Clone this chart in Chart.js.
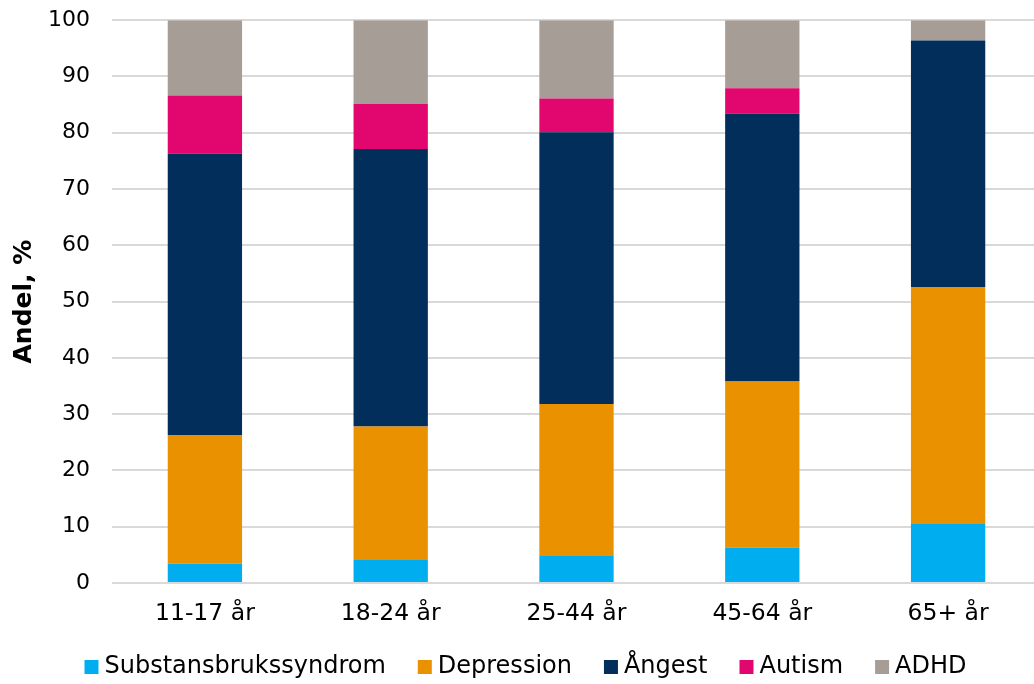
<!DOCTYPE html>
<html>
<head>
<meta charset="utf-8">
<script src="https://cdn.jsdelivr.net/npm/chart.js@4/dist/chart.umd.min.js"></script>
<style>
  html, body { margin: 0; padding: 0; background: #fff; overflow: hidden; }
  #wrap { position: absolute; left: 0; top: -15px; width: 1041px; height: 715px; }
</style>
</head>
<body>
<div id="wrap"><canvas id="c"></canvas></div>
<script>
// Age groups and share (%) per diagnosis
const categories = ['11-17 år', '18-24 år', '25-44 år', '45-64 år', '65+ år'];
const substans   = [3.4, 4.1, 4.8, 6.3, 10.5];
const depression = [22.9, 23.7, 27.0, 29.5, 42.1];
const angest     = [50.0, 49.3, 48.3, 47.6, 43.8];
const autism     = [10.3, 8.0, 6.0, 4.5, 0.0];
const adhd       = [13.4, 14.9, 13.9, 12.1, 3.6];
const yTicks     = [0, 10, 20, 30, 40, 50, 60, 70, 80, 90, 100];

const FONT = "'DejaVu Sans', Verdana, sans-serif";

const series = [
  { label: 'Substansbrukssyndrom', data: substans,   color: '#00AEEF' },
  { label: 'Depression',           data: depression, color: '#EA9100' },
  { label: 'Ångest',               data: angest,     color: '#012E5A' },
  { label: 'Autism',               data: autism,     color: '#E2076F' },
  { label: 'ADHD',                 data: adhd,       color: '#A69D97' }
];

// pull the legend row a bit up and to the right
const legendShift = {
  id: 'legendShift',
  afterLayout(chart) {
    const lg = chart.legend;
    if (lg) {
      lg.left += 8; lg.right += 8;
      lg.top -= 11; lg.bottom -= 11;
    }
  }
};

new Chart(document.getElementById('c'), {
  type: 'bar',
  data: {
    labels: categories,
    datasets: series.map(s => ({
      label: s.label,
      data: s.data,
      backgroundColor: s.color,
      borderWidth: 0,
      categoryPercentage: 1,
      barPercentage: 0.4
    }))
  },
  plugins: [legendShift],
  options: {
    responsive: true,
    maintainAspectRatio: false,
    animation: false,
    layout: { padding: { top: 5, left: 0, right: 0, bottom: 0 } },
    plugins: {
      tooltip: { enabled: false },
      legend: {
        position: 'bottom',
        labels: {
          usePointStyle: true,
          pointStyle: 'rect',
          boxWidth: 2,
          boxHeight: 14,
          padding: 38,
          color: '#000',
          font: { family: FONT, size: 24 }
        }
      }
    },
    scales: {
      x: {
        stacked: true,
        grid: { display: false, drawTicks: false },
        border: { display: false },
        ticks: { color: '#000', padding: 17, font: { family: FONT, size: 23.5 } },
        afterFit: s => { s.height = 45; }
      },
      y: {
        stacked: true,
        min: 0,
        max: 100,
        afterBuildTicks: s => { s.ticks = yTicks.map(v => ({ value: v })); },
        grid: { color: '#D9D9D9', lineWidth: 2, drawTicks: false },
        border: { display: false },
        ticks: { color: '#000', padding: 22, font: { family: FONT, size: 22 } },
        title: {
          display: true,
          text: 'Andel, %',
          color: '#000',
          padding: { top: 9, bottom: 0 },
          font: { family: FONT, size: 25, weight: 'bold' }
        },
        afterFit: s => { s.width = 112; }
      }
    }
  }
});
</script>
</body>
</html>
